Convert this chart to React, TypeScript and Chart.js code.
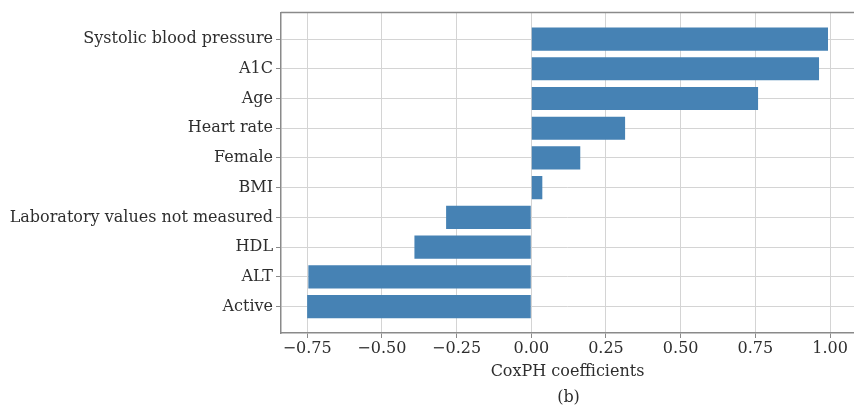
import React, { useEffect, useRef } from 'react';
import { Chart, registerables } from 'chart.js';

Chart.register(...registerables);

const categories = [
  'Systolic blood pressure',
  'A1C',
  'Age',
  'Heart rate',
  'Female',
  'BMI',
  'Laboratory values not measured',
  'HDL',
  'ALT',
  'Active',
];
const coefficients = [0.993, 0.963, 0.759, 0.314, 0.164, 0.037, -0.285, -0.391, -0.746, -0.75];
const xTicks = [-0.75, -0.5, -0.25, 0, 0.25, 0.5, 0.75, 1.0];
const xTickLabels = ['\u22120.75', '\u22120.50', '\u22120.25', '0.00', '0.25', '0.50', '0.75', '1.00'];
const xTitle = 'CoxPH coefficients';
const panelLabel = '(b)';

const FONT = 'DejaVu Serif';
const TEXT = '#2e2e2e';
const SPINE = '#8a8a8a';
const GRID = '#d4d4d4';

export default function App() {
  const ref = useRef<HTMLCanvasElement | null>(null);

  useEffect(() => {
    if (!ref.current) return;
    const framePlugin = {
      id: 'frame',
      afterDraw(chart: any) {
        const { ctx, chartArea } = chart;
        ctx.save();
        ctx.strokeStyle = SPINE;
        ctx.lineWidth = 1.5;
        ctx.beginPath();
        ctx.moveTo(chartArea.left, chartArea.top);
        ctx.lineTo(chartArea.right, chartArea.top);
        ctx.stroke();
        ctx.fillStyle = TEXT;
        ctx.font = `16px "${FONT}"`;
        ctx.textAlign = 'center';
        ctx.textBaseline = 'middle';
        ctx.fillText(panelLabel, (chartArea.left + 856) / 2, chartArea.bottom + 65);
        ctx.restore();
      },
    };

    const chart = new Chart(ref.current, {
      type: 'bar',
      data: {
        datasets: [
          {
            data: coefficients.map((v, i) => ({ x: v, y: i })),
            backgroundColor: '#4682b4',
            borderWidth: 0,
            categoryPercentage: 1,
            barPercentage: 0.78,
          },
        ],
      },
      options: {
        indexAxis: 'y',
        responsive: false,
        animation: false,
        devicePixelRatio: 1,
        layout: { padding: { top: 6, left: 0, right: 0, bottom: 0 } },
        plugins: { legend: { display: false }, tooltip: { enabled: false } },
        scales: {
          x: {
            type: 'linear',
            min: -0.8375,
            max: 1.08,
            afterBuildTicks: (axis: any) => {
              axis.ticks = xTicks.map((v) => ({ value: v }));
            },
            afterFit: (scale: any) => {
              scale.height = 84;
            },
            ticks: {
              color: TEXT,
              font: { family: FONT, size: 16 },
              padding: 1,
              maxRotation: 0,
              callback: (v: any) => {
                const idx = xTicks.findIndex((t) => Math.abs(t - v) < 1e-9);
                return idx >= 0 ? xTickLabels[idx] : '';
              },
            },
            grid: { color: GRID, lineWidth: 1, tickLength: 5, tickColor: SPINE },
            border: { display: true, color: SPINE, width: 1.5 },
            title: {
              display: true,
              text: xTitle,
              color: TEXT,
              font: { family: FONT, size: 16 },
              padding: { top: 0, bottom: 36 },
            },
          },
          y: {
            type: 'linear',
            reverse: true,
            offset: false,
            min: -0.89,
            max: 9.89,
            afterBuildTicks: (axis: any) => {
              axis.ticks = categories.map((_, i) => ({ value: i }));
            },
            afterFit: (scale: any) => {
              scale.width = 281;
            },
            ticks: {
              color: TEXT,
              font: { family: FONT, size: 16 },
              padding: 3,
              callback: (v: any) => categories[Math.round(v)] ?? '',
            },
            grid: { offset: false, color: GRID, lineWidth: 1, tickLength: 5, tickColor: SPINE },
            border: { display: true, color: SPINE, width: 1.5 },
          },
        },
      },
      plugins: [framePlugin],
    });
    return () => chart.destroy();
  }, []);

  return (
    <div style={{ position: 'absolute', left: 0, top: 0, width: 854, height: 417, background: '#fff' }}>
      <canvas ref={ref} width={854} height={417} style={{ display: 'block' }} />
    </div>
  );
}
